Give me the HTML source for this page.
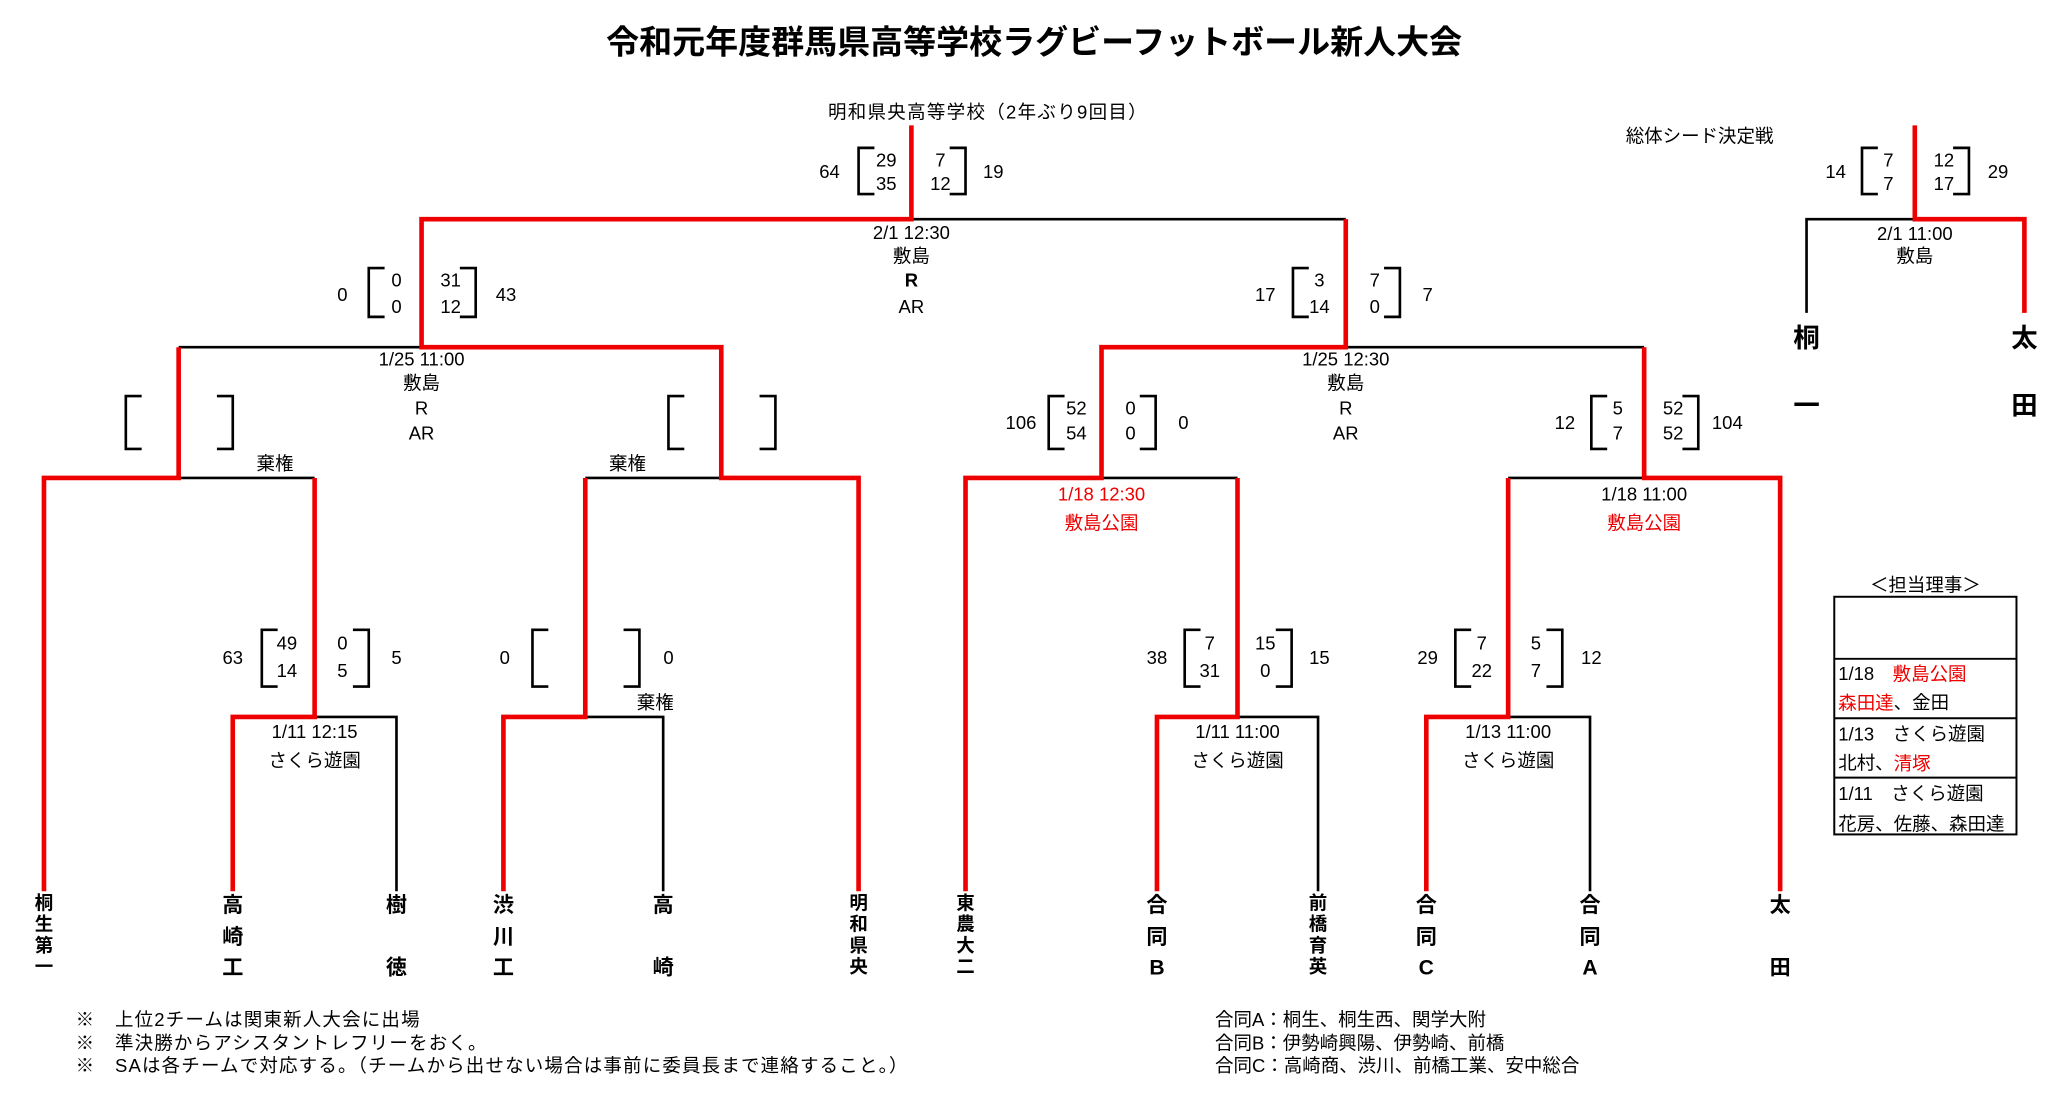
<!DOCTYPE html>
<html><head><meta charset="utf-8"><style>
html,body{margin:0;padding:0;background:#fff;}
svg{display:block;}
text{font-family:"Liberation Sans","Noto Sans CJK JP",sans-serif;font-size:14px;fill:#000;dominant-baseline:central;text-anchor:middle;}
.r{fill:#e00;}
.b{font-weight:bold;}
.l{text-anchor:start;}
.t{font-size:16px;font-weight:bold;}
.s{font-size:14px;font-weight:bold;}
.fn{letter-spacing:0.9px;}
</style></head><body>
<svg width="2071" height="1113" viewBox="0 0 1568 843" xmlns="http://www.w3.org/2000/svg">
<text x="783" y="32" class="b" style="font-size:25px">令和元年度群馬県高等学校ラグビーフットボール新人大会</text>
<text x="748" y="85" style="letter-spacing:1px">明和県央高等学校（2年ぶり9回目）</text>
<text x="1287" y="103">総体シード決定戦</text>

<g fill="none" stroke="#000" stroke-width="2">
<path d="M690 166H1019"/>
<path d="M135 263H319"/>
<path d="M1019 263H1245"/>
<path d="M135 362H238"/>
<path d="M443 362H546"/>
<path d="M834 362H937"/>
<path d="M1142 362H1245"/>
<path d="M238 543H300V675"/>
<path d="M443 543H502V675"/>
<path d="M937 543H998V675"/>
<path d="M1142 543H1204V675"/>
<path d="M1450 166H1368V237"/>
</g>
<g fill="none" stroke="#e00" stroke-width="3.5">
<path d="M690 95V166H319V263H546V362H650V675"/>
<path d="M1019 166V263H834V362H731V675"/>
<path d="M1245 263V362H1348V675"/>
<path d="M135 263V362H33V675"/>
<path d="M238 362V543H176V675"/>
<path d="M443 362V543H381V675"/>
<path d="M937 362V543H876V675"/>
<path d="M1142 362V543H1080V675"/>
<path d="M1450 95V166H1533V237"/>
</g>

<g fill="none" stroke="#000" stroke-width="2">
<path d="M662 112H650V147H662M719 112H731V147H719"/>
<path d="M291 203H279V240H291M348 203H360V240H348"/>
<path d="M991 203H979V240H991M1048 203H1060V240H1048"/>
<path d="M107 300H95V340H107M164 300H176V340H164"/>
<path d="M518 300H506V340H518M575 300H587V340H575"/>
<path d="M806 300H794V340H806M863 300H875V340H863"/>
<path d="M1217 300H1205V340H1217M1274 300H1286V340H1274"/>
<path d="M210 477H198V520H210M267 477H279V520H267"/>
<path d="M415 477H403V520H415M472 477H484V520H472"/>
<path d="M909 477H897V520H909M966 477H978V520H966"/>
<path d="M1114 477H1102V520H1114M1171 477H1183V520H1171"/>
<path d="M1422 112H1410V147H1422M1479 112H1491V147H1479"/>
</g>
<g>
<text x="628" y="130">64</text><text x="671" y="121">29</text><text x="671" y="139">35</text><text x="712" y="121">7</text><text x="712" y="139">12</text><text x="752" y="130">19</text>
<text x="259" y="223">0</text><text x="300" y="212">0</text><text x="300" y="232">0</text><text x="341" y="212">31</text><text x="341" y="232">12</text><text x="383" y="223">43</text>
<text x="958" y="223">17</text><text x="999" y="212">3</text><text x="999" y="232">14</text><text x="1041" y="212">7</text><text x="1041" y="232">0</text><text x="1081" y="223">7</text>
<text x="773" y="320">106</text><text x="815" y="309">52</text><text x="815" y="328">54</text><text x="856" y="309">0</text><text x="856" y="328">0</text><text x="896" y="320">0</text>
<text x="1185" y="320">12</text><text x="1225" y="309">5</text><text x="1225" y="328">7</text><text x="1267" y="309">52</text><text x="1267" y="328">52</text><text x="1308" y="320">104</text>
<text x="176" y="498">63</text><text x="217" y="487">49</text><text x="217" y="508">14</text><text x="259" y="487">0</text><text x="259" y="508">5</text><text x="300" y="498">5</text>
<text x="382" y="498">0</text><text x="506" y="498">0</text>
<text x="876" y="498">38</text><text x="916" y="487">7</text><text x="916" y="508">31</text><text x="958" y="487">15</text><text x="958" y="508">0</text><text x="999" y="498">15</text>
<text x="1081" y="498">29</text><text x="1122" y="487">7</text><text x="1122" y="508">22</text><text x="1163" y="487">5</text><text x="1163" y="508">7</text><text x="1205" y="498">12</text>
<text x="1390" y="130">14</text><text x="1430" y="121">7</text><text x="1430" y="139">7</text><text x="1472" y="121">12</text><text x="1472" y="139">17</text><text x="1513" y="130">29</text>
</g>

<text x="690" y="176">2/1 12:30</text><text x="690" y="194">敷島</text><text x="690" y="212" class="b">R</text><text x="690" y="232">AR</text>
<text x="319" y="272">1/25 11:00</text><text x="319" y="290">敷島</text><text x="319" y="309">R</text><text x="319" y="328">AR</text>
<text x="1019" y="272">1/25 12:30</text><text x="1019" y="290">敷島</text><text x="1019" y="309">R</text><text x="1019" y="328">AR</text>
<text x="208" y="351">棄権</text><text x="475" y="351">棄権</text><text x="496" y="532">棄権</text>
<text x="834" y="374" class="r">1/18 12:30</text><text x="834" y="396" class="r">敷島公園</text>
<text x="1245" y="374">1/18 11:00</text><text x="1245" y="396" class="r">敷島公園</text>
<text x="238" y="554">1/11 12:15</text><text x="238" y="576">さくら遊園</text>
<text x="937" y="554">1/11 11:00</text><text x="937" y="576">さくら遊園</text>
<text x="1142" y="554">1/13 11:00</text><text x="1142" y="576">さくら遊園</text>
<text x="1450" y="177">2/1 11:00</text><text x="1450" y="194">敷島</text>

<g>
<text x="33" y="684" class="s">桐</text><text x="33" y="700" class="s">生</text><text x="33" y="716" class="s">第</text><text x="33" y="732" class="s">一</text>
<text x="650" y="684" class="s">明</text><text x="650" y="700" class="s">和</text><text x="650" y="716" class="s">県</text><text x="650" y="732" class="s">央</text>
<text x="731" y="684" class="s">東</text><text x="731" y="700" class="s">農</text><text x="731" y="716" class="s">大</text><text x="731" y="732" class="s">二</text>
<text x="998" y="684" class="s">前</text><text x="998" y="700" class="s">橋</text><text x="998" y="716" class="s">育</text><text x="998" y="732" class="s">英</text>
</g>
<g>
<text x="176" y="686" class="t">高</text><text x="176" y="710" class="t">崎</text><text x="176" y="733" class="t">工</text>
<text x="300" y="686" class="t">樹</text><text x="300" y="733" class="t">徳</text>
<text x="381" y="686" class="t">渋</text><text x="381" y="710" class="t">川</text><text x="381" y="733" class="t">工</text>
<text x="502" y="686" class="t">高</text><text x="502" y="733" class="t">崎</text>
<text x="876" y="686" class="t">合</text><text x="876" y="710" class="t">同</text><text x="876" y="733" class="t">B</text>
<text x="1080" y="686" class="t">合</text><text x="1080" y="710" class="t">同</text><text x="1080" y="733" class="t">C</text>
<text x="1204" y="686" class="t">合</text><text x="1204" y="710" class="t">同</text><text x="1204" y="733" class="t">A</text>
<text x="1348" y="686" class="t">太</text><text x="1348" y="733" class="t">田</text>
<text x="1368" y="256" class="t" style="font-size:20px">桐</text><text x="1368" y="307" class="t" style="font-size:20px">一</text>
<text x="1533" y="256" class="t" style="font-size:20px">太</text><text x="1533" y="307" class="t" style="font-size:20px">田</text>
</g>

<text x="1458" y="443">＜担当理事＞</text>
<g fill="none" stroke="#000" stroke-width="1.5">
<rect x="1389" y="452" width="138" height="180"/>
<path d="M1389 499H1527M1389 544H1527M1389 589H1527"/>
</g>
<text x="1392" y="510" class="l">1/18　<tspan class="r">敷島公園</tspan></text>
<text x="1392" y="532" class="l"><tspan class="r">森田達</tspan>、金田</text>
<text x="1392" y="556" class="l">1/13　さくら遊園</text>
<text x="1392" y="578" class="l">北村、<tspan class="r">清塚</tspan></text>
<text x="1392" y="601" class="l">1/11　さくら遊園</text>
<text x="1392" y="624" class="l">花房、佐藤、森田達</text>

<text x="57" y="772" class="l fn">※　上位2チームは関東新人大会に出場</text>
<text x="57" y="790" class="l fn">※　準決勝からアシスタントレフリーをおく。</text>
<text x="57" y="807" class="l fn">※　SAは各チームで対応する。（チームから出せない場合は事前に委員長まで連絡すること。）</text>
<text x="920" y="772" class="l">合同A：桐生、桐生西、関学大附</text>
<text x="920" y="790" class="l">合同B：伊勢崎興陽、伊勢崎、前橋</text>
<text x="920" y="807" class="l">合同C：高崎商、渋川、前橋工業、安中総合</text>
</svg>
</body></html>
